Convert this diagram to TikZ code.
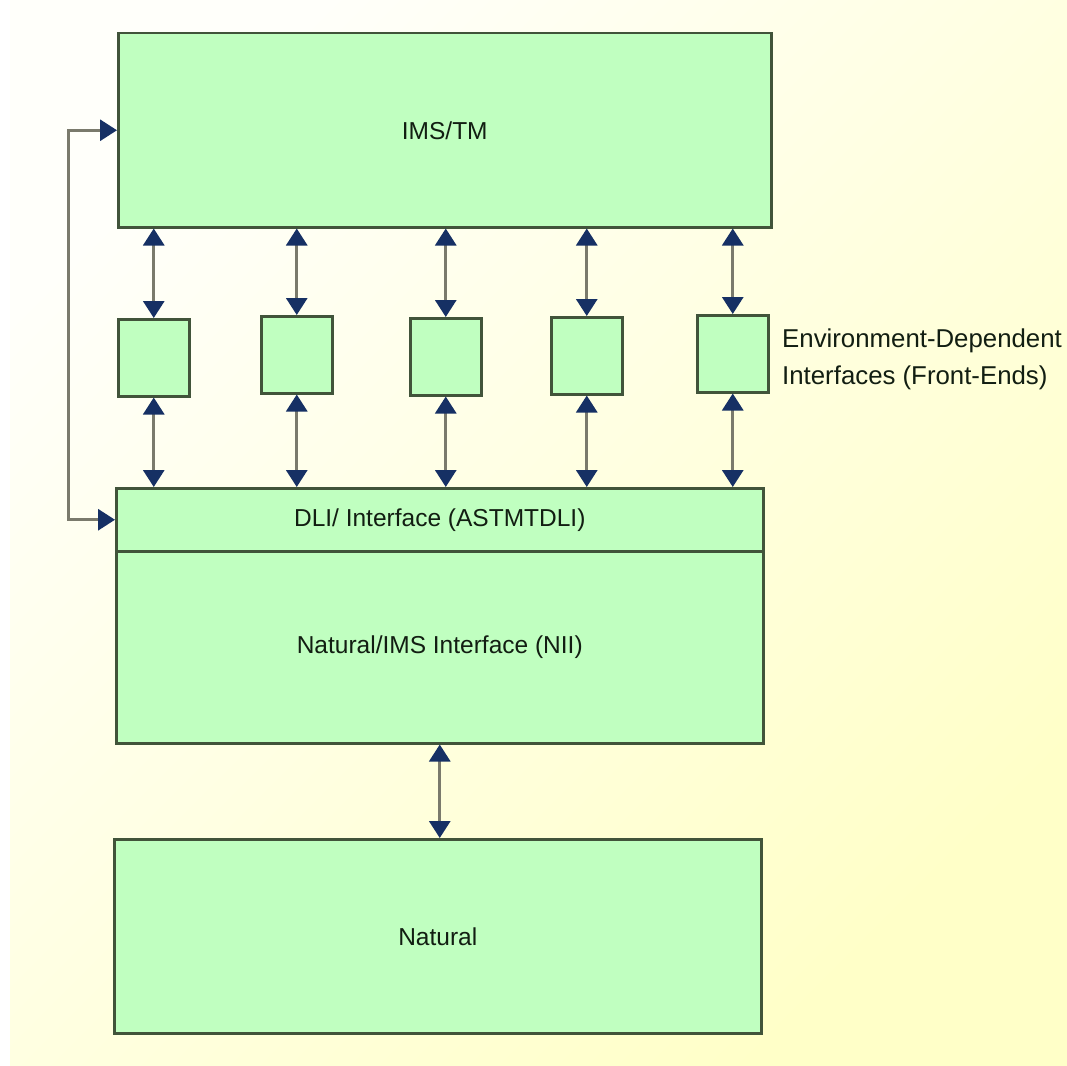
\documentclass[tikz,border=0pt]{standalone}
\usepackage{fontspec}
\setmainfont{Liberation Sans}
\usetikzlibrary{arrows.meta}
\definecolor{boxfill}{RGB}{192,255,192}
\definecolor{boxline}{RGB}{65,84,58}
\definecolor{conn}{RGB}{122,122,108}
\definecolor{tipc}{RGB}{22,48,100}
\definecolor{txt}{RGB}{18,30,18}
\definecolor{bgA}{RGB}{255,255,250}
\definecolor{bgB}{RGB}{255,255,200}
\tikzset{
  box/.style={draw=boxline, fill=boxfill, line width=2.5pt, inner sep=0pt,
    anchor=north west, text=txt, font=\fontsize{24.5}{30}\selectfont},
  dbl/.style={draw=conn, line width=3pt,
    {Triangle[width=21pt,length=17pt,color=tipc]}-{Triangle[width=21pt,length=17pt,color=tipc]}},
  lbl/.style={text=txt, font=\fontsize{25.8}{37}\selectfont, align=left, inner sep=0pt}
}
\begin{document}
\begin{tikzpicture}[x=1pt,y=-1pt]
\useasboundingbox (0,0) rectangle (1067,1065);
\fill[white] (0,0) rectangle (1067,1065);
\shade[top color=bgA, bottom color=bgB, shading angle=45] (10,0) rectangle (1067,1065);

\node[box, minimum width=653pt, minimum height=194pt] (ims) at (117,32) {IMS/TM};

\node[box, minimum width=71pt, minimum height=77pt] (f1) at (117,318) {};
\node[box, minimum width=71pt, minimum height=77pt] (f2) at (260,315) {};
\node[box, minimum width=71pt, minimum height=77pt] (f3) at (409,317) {};
\node[box, minimum width=71pt, minimum height=77pt] (f4) at (550,316) {};
\node[box, minimum width=71pt, minimum height=77pt] (f5) at (696,314) {};

\node[lbl, anchor=west] (env) at (782,359) {Environment-Dependent\\Interfaces (Front-Ends)};

\node[box, minimum width=647pt, minimum height=192pt] (nii) at (115,550) {Natural/IMS Interface (NII)};
\node[box, minimum width=647pt, minimum height=63pt] (dli) at (115,487) {DLI/ Interface (ASTMTDLI)};

\node[box, minimum width=647pt, minimum height=194pt] (nat) at (113,838) {Natural};

\foreach \i in {1,...,5}{
  \draw[dbl] (f\i.north |- ims.south) -- (f\i.north);
  \draw[dbl] (f\i.south) -- (f\i.south |- dli.north);
}
\draw[dbl] (nii.south) -- (nii.south |- nat.north);

\coordinate (lp) at (68,300);
\draw[dbl] (ims.west) -- (ims.west -| lp) -- (dli.west -| lp) -- (dli.west);
\end{tikzpicture}
\end{document}
